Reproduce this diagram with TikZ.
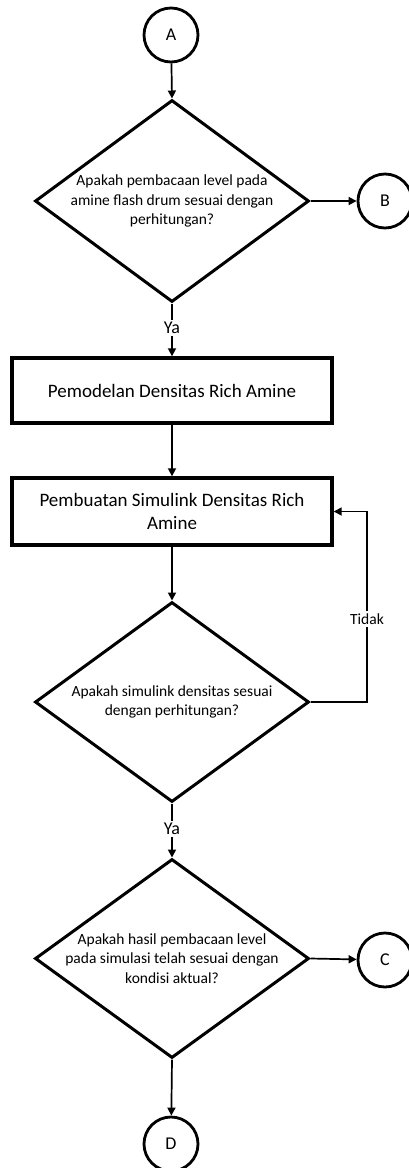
\documentclass[tikz,border=0pt]{standalone}
\usepackage{fontspec}
\setmainfont{Carlito}
\usetikzlibrary{shapes.geometric,arrows.meta}

\begin{document}
\begin{tikzpicture}[x=1pt,y=-1pt]
\tikzset{conn style/.style={shape=circle,draw=black,line width=2.8pt,minimum size=54pt,inner sep=0pt,font=\fontsize{18}{18}\selectfont},
         dec style/.style={shape=diamond,draw=black,line width=3pt,minimum width=274pt,inner sep=-15pt,aspect=1.36,align=center,font=\fontsize{15.5}{19.5}\selectfont},
         box style/.style={shape=rectangle,draw=black,line width=3.4pt,minimum width=320pt,align=center,font=\fontsize{19}{23}\selectfont},
         lbl style/.style={inner sep=2pt,font=\fontsize{18}{18}\selectfont},
         line style/.style={line width=1.7pt,-{Triangle[length=8pt,width=8pt]}}}
\useasboundingbox (0,0) rectangle (409,1168);

\node[conn style] at (171, 35)     (1)     {A};
\node[dec style, minimum height=202pt] at (172, 201)   (2)     {Apakah pembacaan level pada\\amine flash drum sesuai dengan\\perhitungan?};
\node[conn style] at (385, 201)    (3)     {B};
\node[lbl style] at (172, 328)     (ya1)   {Ya};

\node[box style, minimum height=65pt] at (172, 390.5)   (4)   {Pemodelan Densitas Rich Amine};
\node[box style, minimum height=67pt] at (172, 511.5)   (5)   {Pembuatan Simulink Densitas Rich\\Amine};

\node[dec style, minimum height=200pt] at (172, 702)   (6)     {Apakah simulink densitas sesuai\\dengan perhitungan?};
\node[lbl style, font=\fontsize{15.5}{15.5}\selectfont] at (367, 619)   (tidak)   {Tidak};
\node[lbl style] at (172, 829)     (ya2)   {Ya};

\node[dec style, minimum height=199pt] at (172, 958.5)   (7)   {Apakah hasil pembacaan level\\pada simulasi telah sesuai dengan\\kondisi aktual?};
\node[conn style] at (385, 960)    (8)     {C};
\node[conn style] at (171, 1144)   (9)     {D};

\draw[line style] (1) -- (2.north);
\draw[line style] (2.east) -- (3);
\draw[line width=1.7pt] (2.south) -- (ya1.north);
\draw[line style] (ya1.south) -- (4.north);
\draw[line style] (4.south) -- (5.north);
\draw[line style] (5.south) -- (6.north);
\draw[line width=1.7pt] (6.east) -| (tidak.south);
\draw[line style] (tidak.north) |- (5.east);
\draw[line width=1.7pt] (6.south) -- (ya2.north);
\draw[line style] (ya2.south) -- (7.north);
\draw[line style] (7.east) -- (8);
\draw[line style] (7.south) -- (9);
\end{tikzpicture}
\end{document}
